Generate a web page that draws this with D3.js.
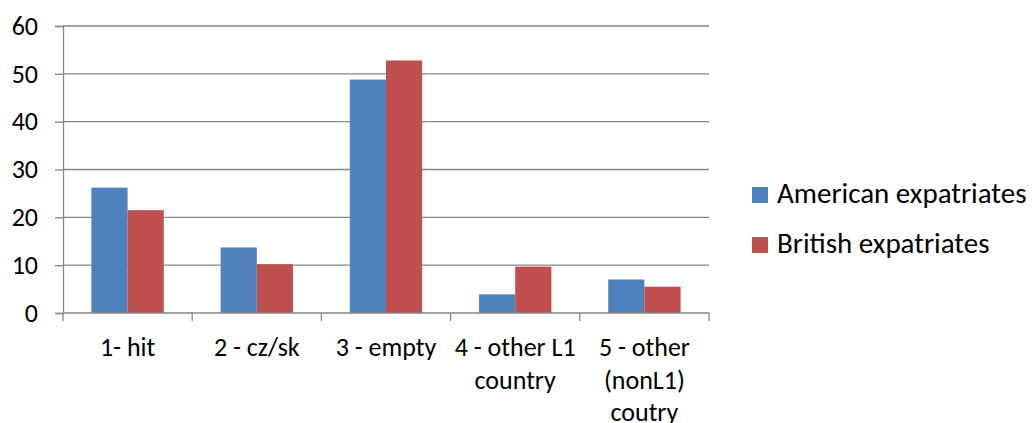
<!DOCTYPE html>
<html><head><meta charset="utf-8">
<script src="https://cdn.jsdelivr.net/npm/d3@7"></script>
<style>
body{margin:0;background:#fff}
text{font-family:Carlito, Calibri, Lato, sans-serif;fill:#000}
</style>
</head><body>
<svg id="c" width="1032" height="423"></svg>
<script>
// Category labels (one entry per line of each label)
const categories = ["1- hit", "2 - cz/sk", "3 - empty", "4 - other L1\ncountry", "5 - other\n(nonL1)\ncoutry"];
const seriesNames = ["American expatriates", "British expatriates"];
const american = [26.2, 13.7, 48.8, 3.9, 7.0];
const british = [21.5, 10.2, 52.8, 9.7, 5.5];
const yTicks = [0, 10, 20, 30, 40, 50, 60];
const colors = ["#4F81BD", "#C0504D"];

const svg = d3.select("#c");
const gridColor = "#868686";

const x0 = d3.scaleBand().domain(categories).range([63, 709]).padding(0);
const x1 = d3.scaleBand().domain(seriesNames)
  .range([x0.bandwidth() * 0.22, x0.bandwidth() * 0.78]).padding(0);
const y = d3.scaleLinear().domain([0, 60]).range([313, 26]);

// Horizontal gridlines
svg.append("g").selectAll("line").data(yTicks.filter(d => d > 0)).join("line")
  .attr("x1", 63).attr("x2", 709)
  .attr("y1", d => y(d)).attr("y2", d => y(d))
  .attr("stroke", gridColor).attr("stroke-width", 1.3);

// Bars
const rows = categories.map((c, i) => ({ c, vals: [american[i], british[i]] }));
svg.append("g").selectAll("g").data(rows).join("g")
  .attr("transform", d => `translate(${x0(d.c)},0)`)
  .selectAll("rect").data(d => d.vals.map((v, j) => ({ s: seriesNames[j], v, j })))
  .join("rect")
  .attr("x", d => x1(d.s))
  .attr("width", x1.bandwidth())
  .attr("y", d => y(d.v))
  .attr("height", d => y(0) - y(d.v))
  .attr("fill", d => colors[d.j]);

// Y axis
const yAxis = d3.axisLeft(y).tickValues(yTicks).tickSize(8).tickPadding(17);
const gy = svg.append("g").attr("transform", "translate(63,0)").call(yAxis);
gy.select(".domain").attr("stroke", gridColor).attr("stroke-width", 1.3);
gy.selectAll(".tick line").attr("stroke", gridColor).attr("stroke-width", 1.3);
gy.selectAll(".tick text").style("font-size", "26px").attr("fill", "#000")
  .style("font-family", "Carlito, Calibri, Lato, sans-serif");

// X axis: line plus ticks at category boundaries
const xAxisG = svg.append("g");
xAxisG.append("line").attr("x1", 63).attr("x2", 709).attr("y1", y(0)).attr("y2", y(0))
  .attr("stroke", gridColor).attr("stroke-width", 1.3);
const bounds = categories.map(c => x0(c)).concat([x0.range()[1]]);
xAxisG.selectAll("line.tk").data(bounds).join("line").attr("class", "tk")
  .attr("x1", d => d).attr("x2", d => d)
  .attr("y1", y(0)).attr("y2", y(0) + 8)
  .attr("stroke", gridColor).attr("stroke-width", 1.3);

// Category labels, multi-line
xAxisG.selectAll("text.cat").data(categories).join("text").attr("class", "cat")
  .attr("text-anchor", "middle")
  .style("font-size", "26px")
  .each(function (d) {
    const t = d3.select(this);
    const cx = x0(d) + x0.bandwidth() / 2;
    d.split("\n").forEach((ln, i) => {
      t.append("tspan").attr("x", cx).attr("y", 356 + i * 32.5).text(ln);
    });
  });

// Legend
const lg = svg.append("g").selectAll("g").data(seriesNames).join("g")
  .attr("transform", (d, i) => `translate(752,${203 + i * 50})`);
lg.append("rect").attr("x", 0).attr("y", -16).attr("width", 16).attr("height", 16)
  .attr("fill", (d, i) => colors[i]);
lg.append("text").attr("x", 25).attr("y", 0).style("font-size", "29px").text(d => d);
</script>
</body></html>
